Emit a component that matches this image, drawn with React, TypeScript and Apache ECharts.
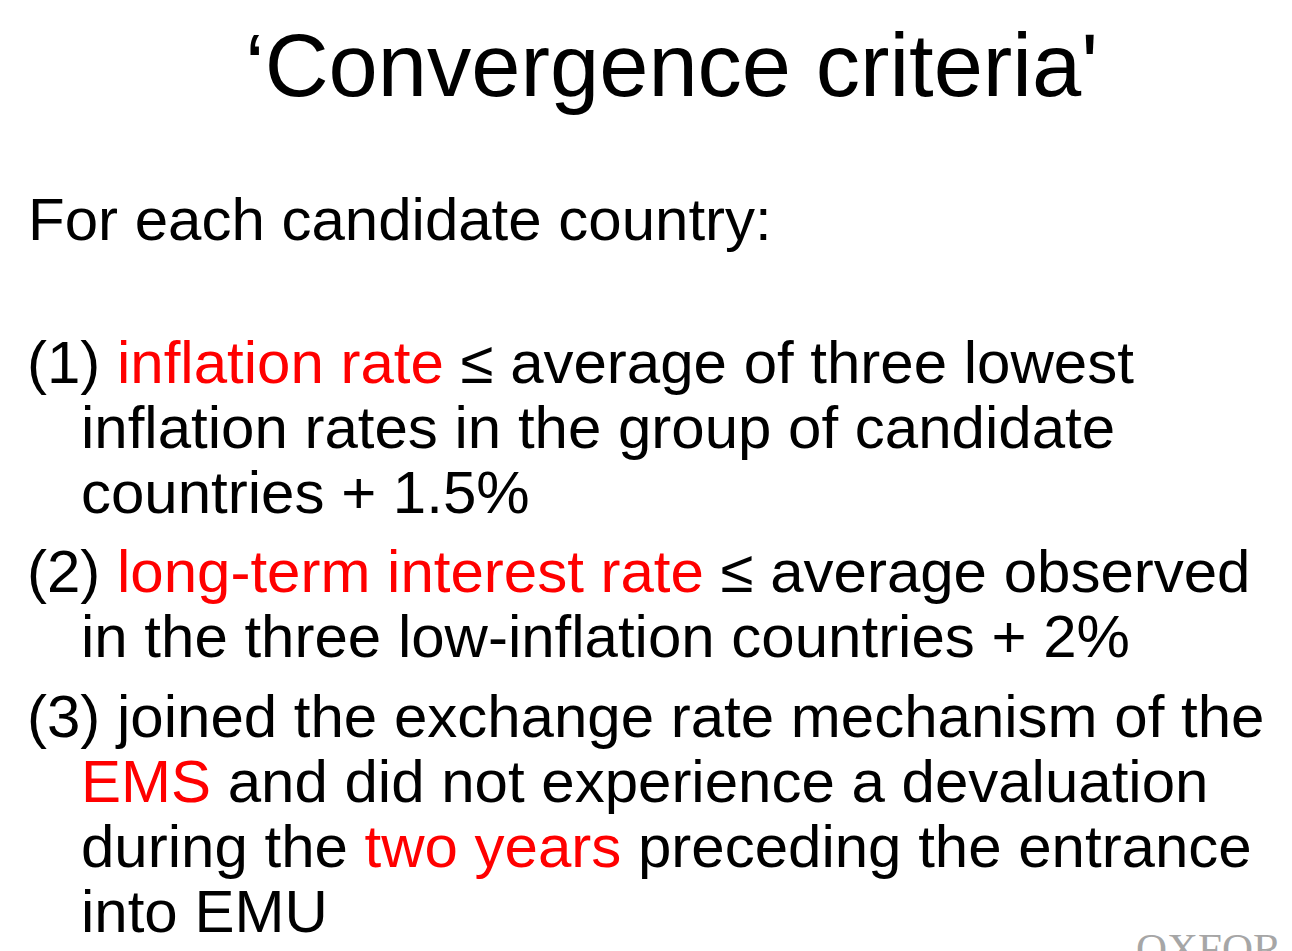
import React, { useEffect, useRef } from "react";
import * as echarts from "echarts";

const SANS = '"Liberation Sans", Arial, sans-serif';
const SERIF = '"Liberation Serif", "Times New Roman", serif';
const RED = "#ff0000";
const BLACK = "#000000";

const TITLE = "\u2018Convergence criteria'";
const INTRO = "For each candidate country:";
// each line: indent flag (0 = number column, 1 = continuation), baseline, rich text
const LINE_INDENT = [0, 1, 1, 0, 1, 0, 1, 1, 1];
const LINE_BASE = [383, 448, 513, 592, 657, 737, 802, 867, 932];
const LINE_TEXT = [
  "(1) {r|inflation rate} \u2264 average of three lowest",
  "inflation rates in the group of candidate",
  "countries + 1.5%",
  "(2) {r|long-term interest rate} \u2264 average observed",
  "in the three low-inflation countries + 2%",
  "(3) joined the exchange rate mechanism of the",
  "{r|EMS} and did not experience a devaluation",
  "during the {r|two years} preceding the entrance",
  "into EMU",
];
const LOGO = "OXFOR";

const BODY_SIZE = 60;
const TITLE_SIZE = 88.5;
const CENTRAL = 0.3465; // central baseline offset (em) for Liberation Sans

export default function App() {
  const ref = useRef<HTMLDivElement>(null);
  useEffect(() => {
    if (!ref.current) return;
    const chart = echarts.init(ref.current, null, { renderer: "svg" });
    const rich = {
      r: { fill: RED, fontSize: BODY_SIZE, fontFamily: SANS },
    };
    const lines = LINE_TEXT.map((t, i) => ({
      type: "text",
      x: LINE_INDENT[i] ? 81 : 27,
      y: LINE_BASE[i] - CENTRAL * BODY_SIZE,
      style: {
        text: t,
        fill: BLACK,
        fontSize: BODY_SIZE,
        fontFamily: SANS,
        verticalAlign: "middle",
        align: "left",
        rich,
      },
    }));
    chart.setOption({
      animation: false,
      backgroundColor: "#ffffff",
      graphic: [
        {
          type: "text",
          x: 245,
          y: 96 - CENTRAL * TITLE_SIZE,
          style: {
            text: TITLE,
            fill: BLACK,
            fontSize: TITLE_SIZE,
            fontFamily: SANS,
            verticalAlign: "middle",
            align: "left",
          },
        },
        {
          type: "text",
          x: 28,
          y: 240 - CENTRAL * BODY_SIZE,
          style: {
            text: INTRO,
            fill: BLACK,
            fontSize: BODY_SIZE,
            fontFamily: SANS,
            verticalAlign: "middle",
            align: "left",
          },
        },
        ...lines,
        {
          type: "text",
          x: 1136,
          y: 963 - 0.33 * 43,
          style: {
            text: LOGO,
            fill: "#a6a6a6",
            fontSize: 43,
            fontFamily: SERIF,
            verticalAlign: "middle",
            align: "left",
          },
        },
      ],
    });
    return () => chart.dispose();
  }, []);
  return (
    <div
      ref={ref}
      style={{ position: "fixed", left: 0, top: 0, width: 1292, height: 951, background: "#fff" }}
    />
  );
}
